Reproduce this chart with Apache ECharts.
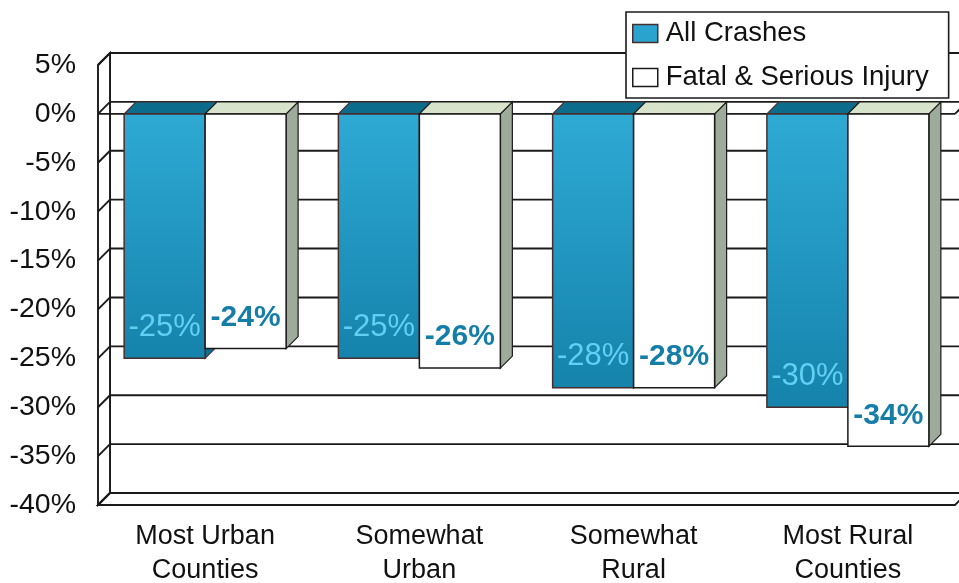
<!DOCTYPE html>
<html>
<head>
<meta charset="utf-8">
<script src="https://cdn.jsdelivr.net/npm/echarts@6/dist/echarts.min.js"></script>
<style>
  html, body { margin: 0; padding: 0; background: #ffffff; }
  #chart { width: 959px; height: 583px; }
</style>
</head>
<body>
<div id="chart"></div>
<script>
// Change in crashes by county type
const categories = ['Most Urban\nCounties', 'Somewhat\nUrban', 'Somewhat\nRural', 'Most Rural\nCounties'];
const allCrashes = [-25, -25, -28, -30];
const fatalSerious = [-24, -26, -28, -34];
const yTicks = [5, 0, -5, -10, -15, -20, -25, -30, -35, -40];
const yMin = -40;
const yMax = 5;
const yStep = 5;

const FONT = '"Liberation Sans", Arial, Helvetica, sans-serif';
const DEPTH = 12;          // pseudo-3D depth offset in pixels
const BAR_FRAC = 0.378;    // bar width as a share of the category band
const EDGE = '#1b1b1b';

// Walls, floor and gridlines of the 3D box, driven by the value axis
function renderFrame(params, api) {
  const cs = params.coordSys;
  const L = cs.x, R = cs.x + cs.width;
  const yy = v => api.coord([0, v])[1];
  const yTop = yy(yMax), yBot = yy(yMin), y0 = yy(0);
  const D = DEPTH;
  const line = (x1, y1, x2, y2) => ({
    type: 'line', shape: { x1, y1, x2, y2 },
    style: { stroke: EDGE, lineWidth: 1.9 }
  });
  const children = [];
  // back wall
  children.push({ type: 'polygon', shape: { points: [[L + D, yTop - D], [R + D, yTop - D], [R + D, yBot - D], [L + D, yBot - D]] },
    style: { fill: '#ffffff', stroke: EDGE, lineWidth: 1.9 } });
  // left side wall
  children.push({ type: 'polygon', shape: { points: [[L, yTop], [L + D, yTop - D], [L + D, yBot - D], [L, yBot]] },
    style: { fill: '#ffffff', stroke: EDGE, lineWidth: 1.9 } });
  // floor
  children.push({ type: 'polygon', shape: { points: [[L, yBot], [L + D, yBot - D], [R + D, yBot - D], [R, yBot]] },
    style: { fill: '#ffffff', stroke: EDGE, lineWidth: 1.9 } });
  // gridlines on back wall and ticks on side wall
  yTicks.forEach(t => {
    const y = yy(t);
    children.push(line(L + D, y - D, R + D, y - D));
    children.push(line(L, y, L + D, y - D));
  });
  // zero plane front edge
  children.push(line(L, y0, R, y0));
  children.push(line(R, y0, R + D, y0 - D));
  return { type: 'group', children };
}

function makeBarRenderer(slot, look) {
  return function (params, api) {
    const idx = api.value(0);
    const val = api.value(1);
    const base = api.coord([idx, 0]);
    const end = api.coord([idx, val]);
    const band = api.size([1, 0])[0];
    const w = band * BAR_FRAC;
    const x0 = base[0] + (slot === 0 ? -w : 0);
    const x1 = x0 + w;
    const y0 = base[1], yv = end[1];
    const D = DEPTH;
    return {
      type: 'group',
      children: [
        { type: 'polygon', shape: { points: [[x1, y0], [x1 + D, y0 - D], [x1 + D, yv - D], [x1, yv]] },
          style: { fill: look.side, stroke: look.edge, lineWidth: 1.2 } },
        { type: 'polygon', shape: { points: [[x0, y0], [x0 + D, y0 - D], [x1 + D, y0 - D], [x1, y0]] },
          style: { fill: look.top, stroke: look.edge, lineWidth: 1.2 } },
        { type: 'rect', shape: { x: x0, y: y0, width: w, height: yv - y0 },
          style: { fill: look.front, stroke: look.edge, lineWidth: 1.5 } },
        { type: 'text', style: {
            text: Math.round(val) + '%', x: (x0 + x1) / 2, y: yv - 31,
            align: 'center', verticalAlign: 'middle',
            fill: look.labelColor, font: look.labelFont } }
      ]
    };
  };
}

const blueLook = {
  front: new echarts.graphic.LinearGradient(0, 0, 0, 1, [
    { offset: 0, color: '#2eaad5' }, { offset: 1, color: '#1583ab' }]),
  top: '#0b6c8c',
  side: '#0f6f92',
  edge: '#4a2d2d',
  labelColor: '#62d0f2',
  labelFont: 'normal 31px ' + FONT
};
const whiteLook = {
  front: '#ffffff',
  top: '#d7e3cb',
  side: '#9eab9b',
  edge: '#1b1b1b',
  labelColor: '#157ea8',
  labelFont: 'bold 30px ' + FONT
};

const chart = echarts.init(document.getElementById('chart'), null, { renderer: 'canvas' });
chart.setOption({
  animation: false,
  backgroundColor: '#ffffff',
  grid: { left: 98, right: 4, top: 65, bottom: 78, containLabel: false, outerBoundsMode: 'none' },
  legend: {
    orient: 'vertical',
    left: 626, top: 12,
    padding: [7, 20, 6, 6],
    backgroundColor: '#ffffff',
    borderColor: '#1b1b1b',
    borderWidth: 1.6,
    borderRadius: 0,
    itemWidth: 25, itemHeight: 18,
    itemGap: 15,
    textStyle: { fontSize: 27.5, fontFamily: FONT, color: '#111111', lineHeight: 29, padding: [0, 0, 0, 3] },
    z: 10,
    data: [
      { name: 'All Crashes', icon: 'rect', itemStyle: { color: '#2aa3cf', borderColor: '#4a2d2d', borderWidth: 1.5 } },
      { name: 'Fatal & Serious Injury', icon: 'rect', itemStyle: { color: '#ffffff', borderColor: '#1b1b1b', borderWidth: 1.5 } }
    ]
  },
  xAxis: {
    type: 'category',
    data: categories,
    boundaryGap: true,
    axisLine: { show: false, onZero: false },
    axisTick: { show: false },
    splitLine: { show: false },
    axisLabel: { margin: 15, fontSize: 27, lineHeight: 34, color: '#111111', fontFamily: FONT, interval: 0 }
  },
  yAxis: {
    type: 'value',
    min: yMin, max: yMax, interval: yStep,
    axisLine: { show: false },
    axisTick: { show: false },
    splitLine: { show: false },
    axisLabel: { margin: 22, fontSize: 28.5, color: '#111111', fontFamily: FONT, formatter: '{value}%' }
  },
  series: [
    {
      type: 'custom', name: 'frame', z: 1, silent: true,
      renderItem: renderFrame,
      data: [[0, 0]]
    },
    {
      type: 'custom', name: 'All Crashes', z: 2,
      itemStyle: { color: '#2aa3cf' },
      renderItem: makeBarRenderer(0, blueLook),
      encode: { x: 0, y: 1 },
      data: allCrashes.map((v, i) => [i, v])
    },
    {
      type: 'custom', name: 'Fatal & Serious Injury', z: 3,
      itemStyle: { color: '#ffffff' },
      renderItem: makeBarRenderer(1, whiteLook),
      encode: { x: 0, y: 1 },
      data: fatalSerious.map((v, i) => [i, v])
    }
  ]
});
</script>
</body>
</html>
